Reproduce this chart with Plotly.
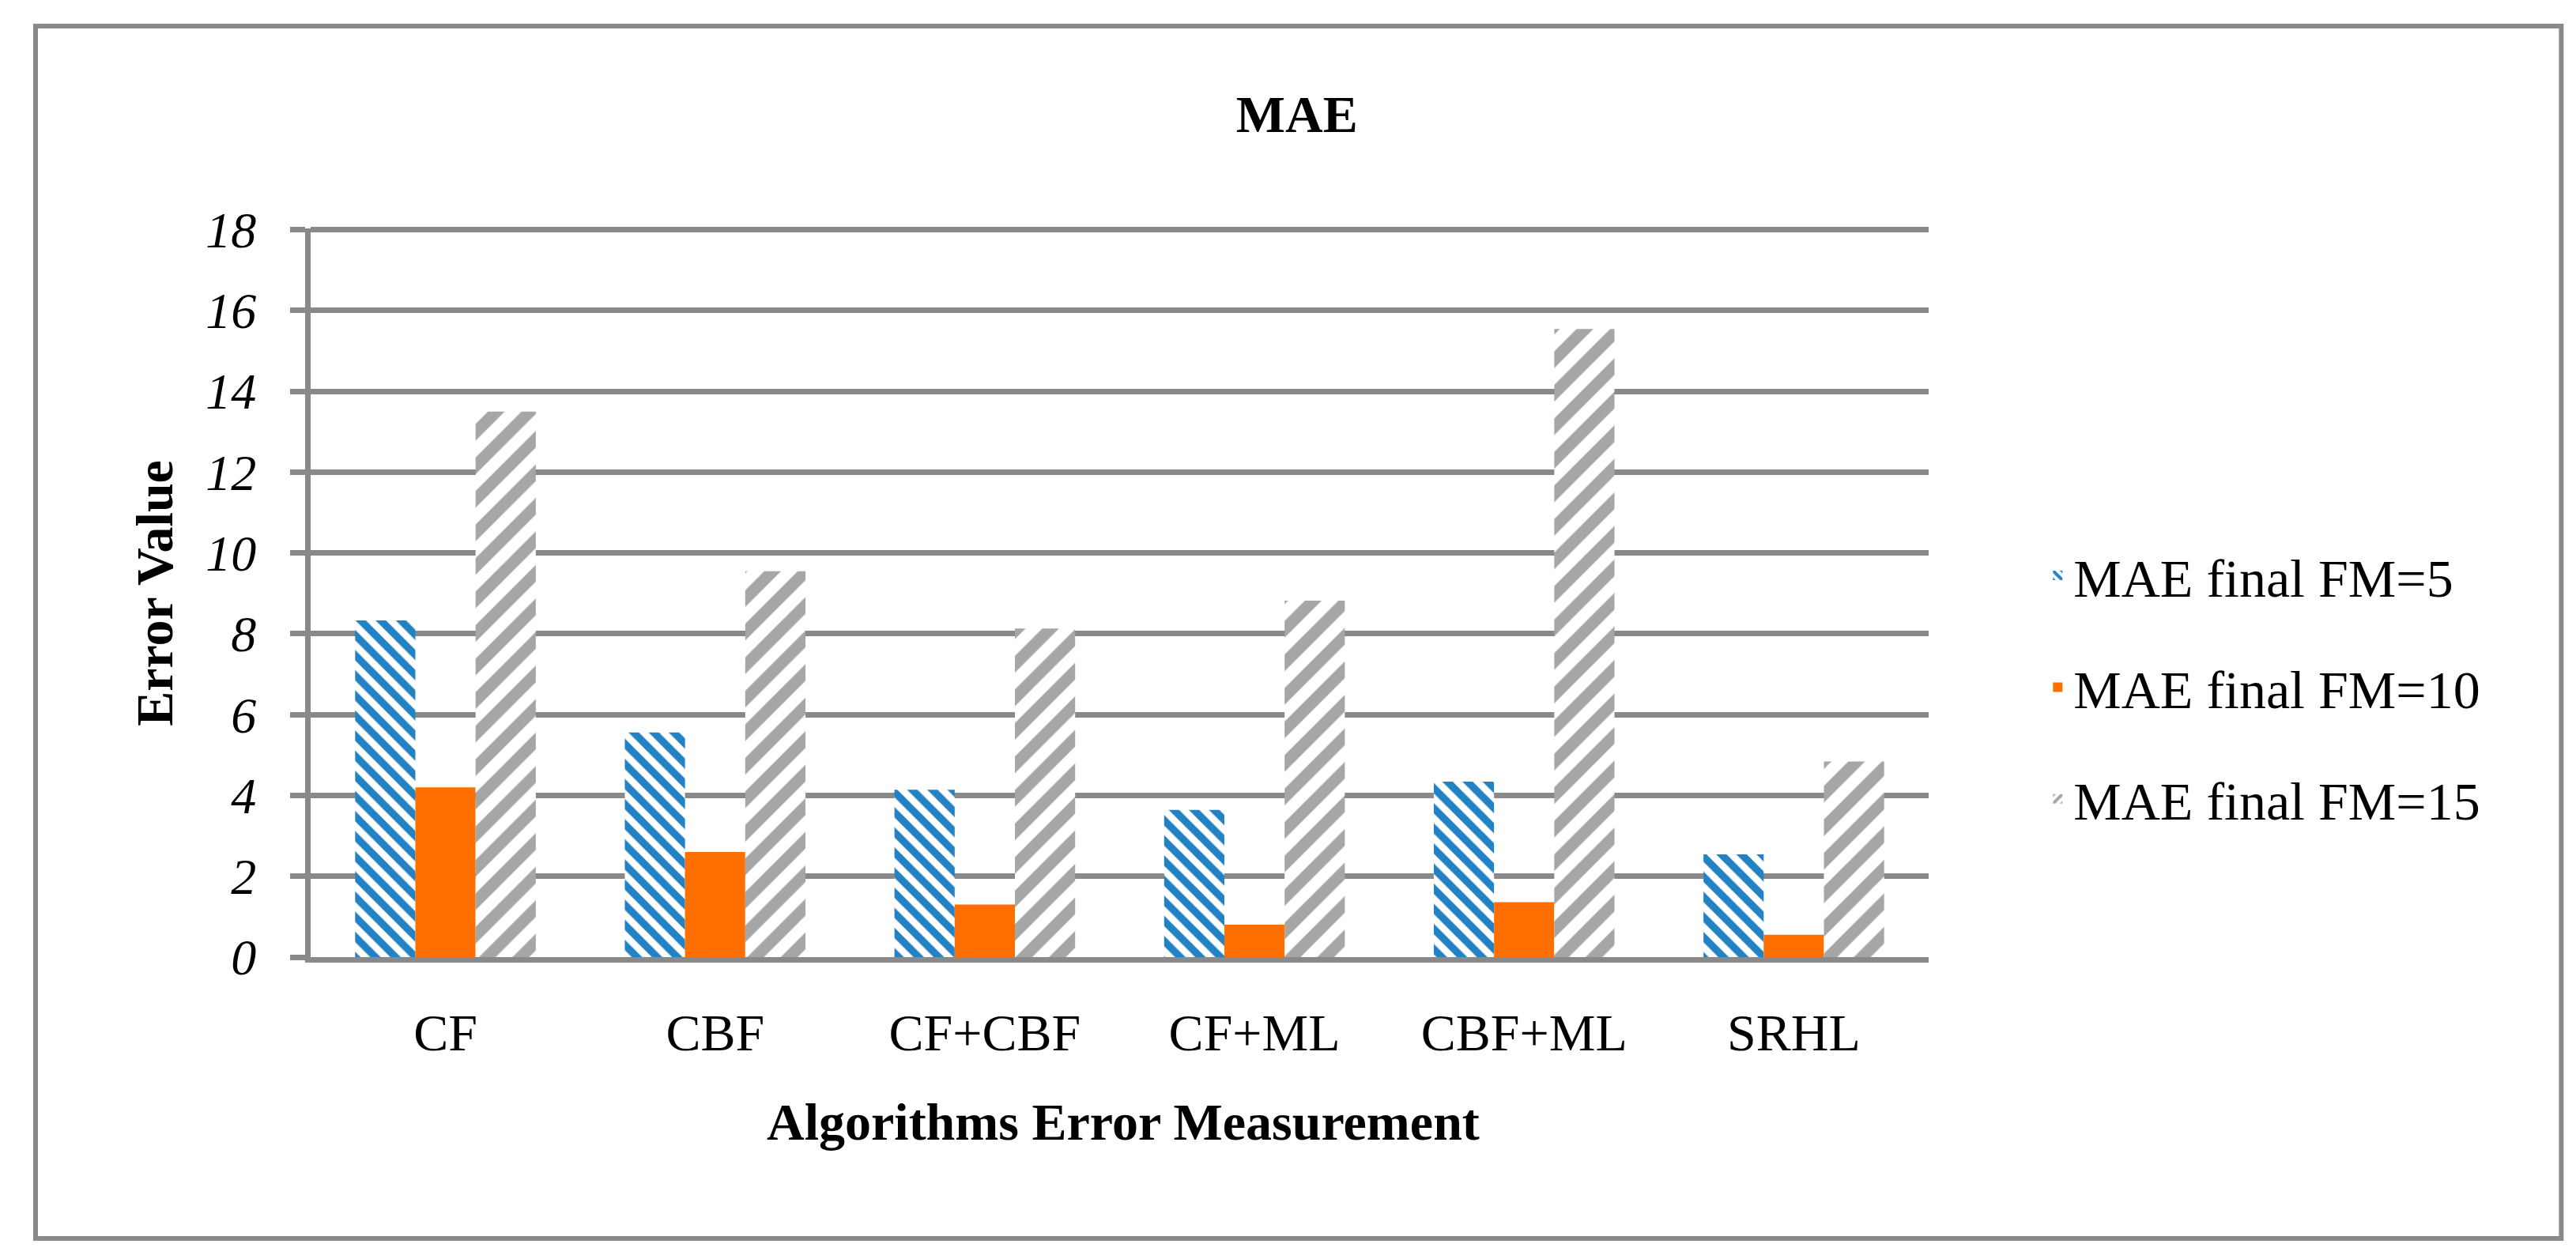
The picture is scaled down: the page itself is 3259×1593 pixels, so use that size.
import plotly.graph_objects as go

categories = ["CF", "CBF", "CF+CBF", "CF+ML", "CBF+ML", "SRHL"]
mae_fm5 = [8.33, 5.56, 4.14, 3.64, 4.34, 2.54]
mae_fm10 = [4.2, 2.6, 1.3, 0.8, 1.36, 0.55]
mae_fm15 = [13.5, 9.55, 8.13, 8.82, 15.54, 4.84]
y_ticks = [0, 2, 4, 6, 8, 10, 12, 14, 16, 18]

FONT = "Liberation Serif"
GRID = "#898989"

fig = go.Figure()
fig.add_trace(go.Bar(
    x=categories, y=mae_fm5, name="MAE final FM=5", legendgroup="a",
    marker=dict(color="white", line=dict(width=0),
                pattern=dict(shape="\\", fgcolor="#2382C4", fgopacity=1, bgcolor="white",
                             fillmode="overlay", size=18, solidity=0.52)),
))
fig.add_trace(go.Bar(
    x=categories, y=mae_fm10, name="MAE final FM=10", legendgroup="b",
    marker=dict(color="#FF6F00", line=dict(width=0)),
))
fig.add_trace(go.Bar(
    x=categories, y=mae_fm15, name="MAE final FM=15", legendgroup="c",
    marker=dict(color="white", line=dict(width=0),
                pattern=dict(shape="/", fgcolor="#A6A6A6", fgopacity=1, bgcolor="white",
                             fillmode="overlay", size=30, solidity=0.5)),
))

fig.update_layout(
    width=3259, height=1593,
    margin=dict(l=385, r=827, t=281, b=390),
    paper_bgcolor="white", plot_bgcolor="white",
    barmode="group", bargap=0.33, bargroupgap=0,
    font=dict(family=FONT, size=66, color="black"),
    title=dict(text="<b>MAE</b>", x=0.501, xanchor="center", y=0.915, yanchor="middle",
               font=dict(family=FONT, size=66)),
    legend=dict(x=1.07, y=0.37, xanchor="left", yanchor="middle",
                font=dict(family=FONT, size=68), tracegroupgap=50,
                bgcolor="rgba(0,0,0,0)"),
    showlegend=True,
)

fig.update_yaxes(
    range=[0, 18.03], tickvals=y_ticks, showgrid=True, gridcolor=GRID, gridwidth=7,
    showline=True, linecolor=GRID, linewidth=7, zeroline=False,
    ticks="outside", ticklen=19, tickwidth=7, tickcolor=GRID,
    ticklabelstandoff=30,
    tickfont=dict(family=FONT, size=64, style="italic"),
)
fig.update_xaxes(
    showgrid=False, showline=True, linecolor=GRID, linewidth=7, ticks="",
    ticklabelstandoff=32, tickfont=dict(family=FONT, size=66),
)

fig.add_annotation(text="<b>Error Value</b>", xref="paper", yref="paper",
                   x=-0.0968, y=0.5, xanchor="center", yanchor="middle",
                   textangle=-90, showarrow=False,
                   font=dict(family=FONT, size=66))
fig.add_annotation(text="<b>Algorithms Error Measurement</b>", xref="paper", yref="paper",
                   x=0.502, y=-0.226, xanchor="center", yanchor="middle",
                   showarrow=False, font=dict(family=FONT, size=66))

# outer frame
fig.add_shape(type="rect", xref="paper", yref="paper",
              x0=-0.170, x1=1.391, y0=-0.386, y1=1.2777,
              line=dict(color=GRID, width=6), fillcolor="rgba(0,0,0,0)", layer="below")

fig.write_html("out.html")
